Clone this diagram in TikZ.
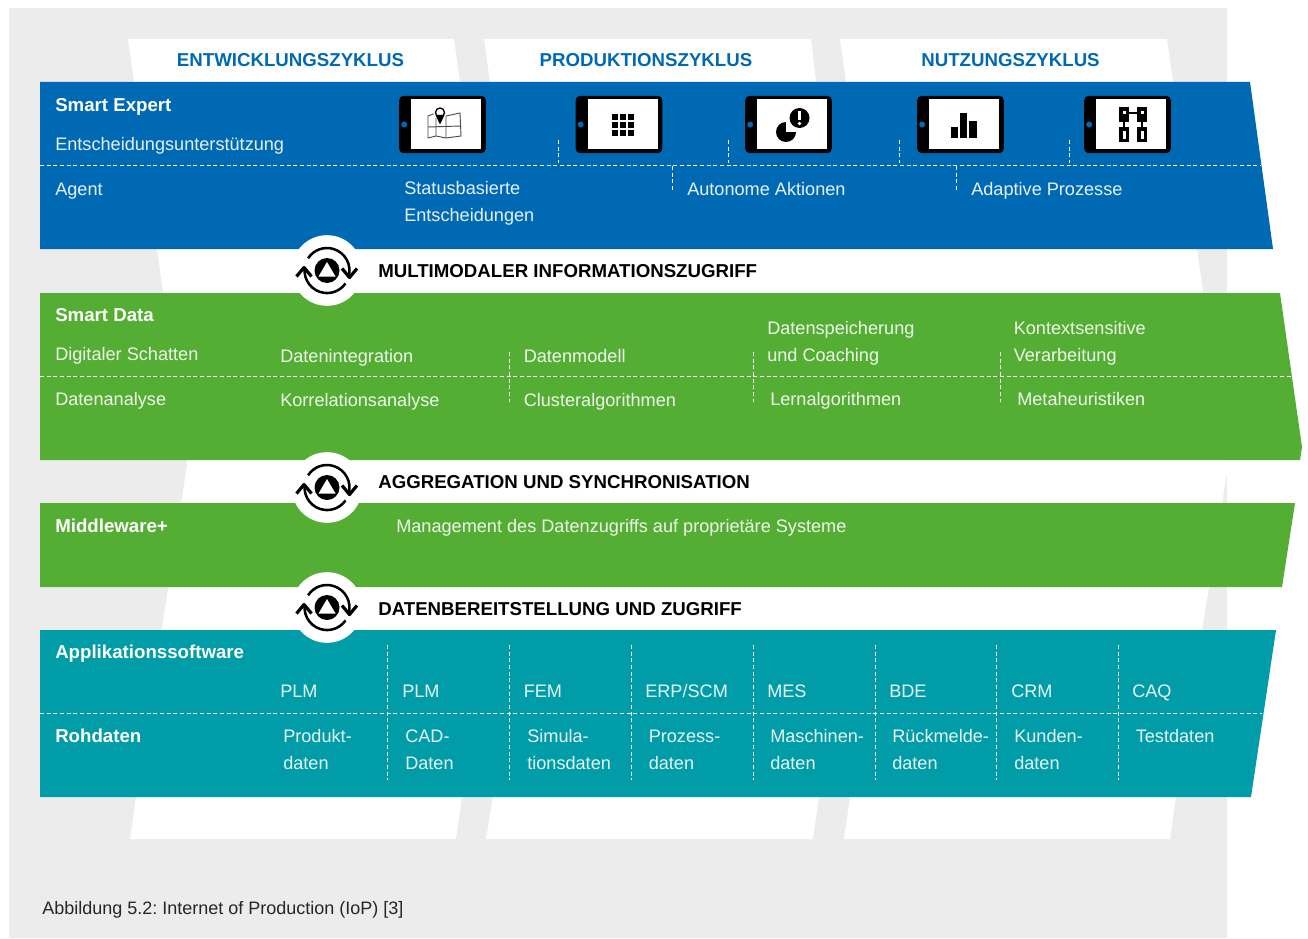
\documentclass[tikz,border=0pt]{standalone}
\usepackage{fontspec}
\setmainfont{Liberation Sans}
\usepackage{tikz}
\usetikzlibrary{calc}
\frenchspacing
\definecolor{iopgray}{RGB}{236,236,236}
\definecolor{iopblue}{RGB}{0,105,180}
\definecolor{iopgreen}{RGB}{84,174,51}
\definecolor{ioptea}{RGB}{0,156,168}
\tikzstyle{txt} = [anchor=base west, inner sep=0pt, align=left, text=white, text opacity=0.9, font=\fontsize{13.6}{19.8}\selectfont]
\tikzstyle{head} = [anchor=base west, inner sep=0pt, text=white, font=\fontsize{14}{17}\selectfont\bfseries]
\tikzstyle{cyc} = [anchor=base, inner sep=0pt, text=iopblue, font=\fontsize{14}{17}\selectfont\bfseries]
\tikzstyle{stage} = [anchor=base west, inner sep=0pt, text=black, font=\fontsize{14}{17}\selectfont\bfseries]
\tikzstyle{div} = [white, densely dashed, line width=0.7pt]
\tikzstyle{tablet} = [draw=black, line width=1pt, fill=black, rounded corners=3pt]
\tikzstyle{hole} = [circle, fill=white, minimum size=53pt, inner sep=0pt]
\newcommand{\tablet}[2]{%
  \node[tablet, minimum width=64pt, minimum height=42pt, inner sep=0pt] (#1) at (#2,124.5) {};
  \fill[white] ($(#1.west)+(12,-25.5)$) rectangle ($(#1.east)+(-4.5,24.5)$);
  \fill[iopblue] ($(#1.west)+(5,0)$) circle (3);
}
\newcommand{\stageicon}[2]{%
  \node[hole] (#1) at (327,#2) {};
  \fill[black] (327,#2) circle (12.5);
  \fill[white] (327,#2-8.5) -- (335.5,#2+6) -- (318.5,#2+6) -- cycle;
  \draw[line width=1.9pt] (348.5,#2+6.6) arc (17:-147:22.5);
  \draw[line width=1.9pt] (304.7,#2-2.7) arc (187:35:22.5);
  \draw[line width=2.4pt, line join=round] (296.5,#2+6) -- (304,#2-3) -- (311.5,#2+6);
  \draw[line width=2.4pt, line join=round] (342,#2-2) -- (349.5,#2+7) -- (357,#2-2);
}
\begin{document}
\begin{tikzpicture}[x=0.75pt,y=-0.75pt]
\useasboundingbox (0,0) rectangle (1308,938);
\fill[iopgray] (9,8) rectangle (1227,938);
% White columns
\fill[white] (128,39) -- (454,39) -- (460,82) -- (134,82) -- cycle;
\fill[white] (484,39) -- (811,39) -- (816,82) -- (490,82) -- cycle;
\fill[white] (840,39) -- (1167,39) -- (1173,82) -- (846,82) -- cycle;
\fill[white] (134,82) -- (1173,82) -- (1228,465) -- (1176,797) -- (136,797) -- (187,465) -- cycle;
\fill[white] (136,797) -- (462,797) -- (456,839) -- (130,839) -- cycle;
\fill[white] (493,797) -- (819,797) -- (813,839) -- (486,839) -- cycle;
\fill[white] (850,797) -- (1176,797) -- (1170,839) -- (844,839) -- cycle;
\node[cyc] (entw) at (290.5,67) {ENTWICKLUNGSZYKLUS};
\node[cyc] (prod) at (646,67) {PRODUKTIONSZYKLUS};
\node[cyc] (nutz) at (1010.5,67) {NUTZUNGSZYKLUS};

% Bands
\fill[iopblue] (40,82) -- (1250,82) -- (1273,249) -- (40,249) -- cycle;
\fill[iopgreen] (40,293) -- (1280,293) -- (1302,447) -- (1300,460) -- (40,460) -- cycle;
\fill[iopgreen] (40,503) -- (1295,503) -- (1282,587) -- (40,587) -- cycle;
\fill[ioptea] (40,630) -- (1276,630) -- (1251,797) -- (40,797) -- cycle;

% Dashed dividers
\draw[div] (40,165.5) -- (1261,165.5);
\draw[div] (40,376.5) -- (1292,376.5);
\draw[div] (40,713) -- (1262,713);
\foreach \x in {558,728,899,1069} \draw[div] (\x,140) -- (\x,163);
\foreach \x in {672,956} \draw[div] (\x,166) -- (\x,190);
\foreach \x in {509,753,1000} \draw[div] (\x,352) -- (\x,402);
\foreach \x in {387,509,631,753,875,996,1118} \draw[div] (\x,645) -- (\x,780);

% Smart Expert
\node[head] (expert) at (55,111.5) {Smart Expert};
\node[txt] (entsch) at (55,151) {Entscheidungsunterstützung};
\node[txt] (agent) at (55,195) {Agent};
\node[txt] (status) at (404,221) {Statusbasierte\\Entscheidungen};
\node[txt] (auto) at (687,195) {Autonome Aktionen};
\node[txt] (adapt) at (971,195) {Adaptive Prozesse};
\tablet{tabmap}{442.5}
\tablet{tabgrid}{619}
\tablet{tabpie}{788.5}
\tablet{tabbar}{960.5}
\tablet{tabnet}{1127.5}

% Tablet icons
\draw[line width=0.7pt, black!70] (428,116) -- (436,113) -- (446,116) -- (460,113) -- (461,136) -- (446,138) -- (436,136) -- (428,138) -- cycle;
\draw[line width=0.7pt, black!70] (428,127) -- (461,126) (436,113) -- (436,136) (446,116) -- (446,138);
\fill[white] (440,113) circle (6.5);
\draw[line width=1pt] (440,112.5) circle (4.5);
\fill[black] (435.5,115) -- (444.5,115) -- (440,124.5) -- cycle;
\foreach \i in {0,1,2} \foreach \j in {0,1,2} \fill[black] (611.5+\i*8,114.5+\j*8) rectangle ++(6,6);
\fill[black] (786,132) circle (10);
\fill[white] (786,132) rectangle (798,120);
\fill[black] (799.5,118) circle (10);
\fill[white] (798,111.5) rectangle (801,120.5);
\fill[white] (799.5,123.5) circle (1.8);
\fill[black] (951,127) rectangle (958,138);
\fill[black] (960,113) rectangle (967,138);
\fill[black] (969,121) rectangle (977,138);
\foreach \x in {1119,1137} {
  \fill[black] (\x,107) rectangle ++(10,15);
  \fill[black] (\x,127) rectangle ++(10,15);
  \fill[white] (\x+4,111) rectangle ++(3,3);
  \fill[white] (\x+4,131) rectangle ++(2.5,8);
  \draw[black, line width=1.4pt] (\x+5,120) -- (\x+5,128);
}
\draw[black, line width=1.2pt] (1129,113) -- (1137,113);

% Smart Data
\node[head] (sdata) at (55,321) {Smart Data};
\node[txt] (schatten) at (55,360) {Digitaler Schatten};
\node[txt] (integ) at (280,362) {Datenintegration};
\node[txt] (modell) at (523.5,362) {Datenmodell};
\node[txt] (speich) at (767,361) {Datenspeicherung\\und Coaching};
\node[txt] (kontext) at (1013.5,361) {Kontextsensitive\\Verarbeitung};
\node[txt] (analyse) at (55,405) {Datenanalyse};
\node[txt] (korr) at (280,406) {Korrelationsanalyse};
\node[txt] (cluster) at (523.5,406) {Clusteralgorithmen};
\node[txt] (lern) at (770,405.5) {Lernalgorithmen};
\node[txt] (meta) at (1017,405) {Metaheuristiken};

% Middleware+
\node[head] (mware) at (55,532) {Middleware+};
\node[txt] (mgmt) at (396,532) {Management des Datenzugriffs auf proprietäre Systeme};

% Applikationssoftware
\node[head] (appl) at (55,658) {Applikationssoftware};
\node[head] (roh) at (55,742) {Rohdaten};
\foreach \x/\t/\n in {280/PLM/aa,402/PLM/ab,523.5/FEM/ac,645/ERP\slash SCM/ad,767/MES/ae,889/BDE/af,1011/CRM/ag,1132/CAQ/ah}
  \node[txt] (\n) at (\x,697) {\t};
\node[txt] (ba) at (283,769) {Produkt-\\daten};
\node[txt] (bb) at (405,769) {CAD-\\Daten};
\node[txt] (bc) at (527,769) {Simula-\\tionsdaten};
\node[txt] (bd) at (648.5,769) {Prozess-\\daten};
\node[txt] (be) at (770,769) {Maschinen-\\daten};
\node[txt] (bf) at (892,769) {Rückmelde-\\daten};
\node[txt] (bg) at (1014,769) {Kunden-\\daten};
\node[txt] (bh) at (1135.5,742) {Testdaten};

% Stages
\stageicon{holea}{270.5}
\stageicon{holeb}{487.5}
\stageicon{holec}{607.5}
\node[stage] (multi) at (378,277) {MULTIMODALER INFORMATIONSZUGRIFF};
\node[stage] (aggr) at (378,488) {AGGREGATION UND SYNCHRONISATION};
\node[stage] (bereit) at (378,615) {DATENBEREITSTELLUNG UND ZUGRIFF};

\node[anchor=base west, inner sep=0pt, text=black!85, font=\fontsize{13.5}{16}\selectfont] (cap) at (42,914) {Abbildung 5.2: Internet of Production (IoP) [3]};
\end{tikzpicture}
\end{document}
